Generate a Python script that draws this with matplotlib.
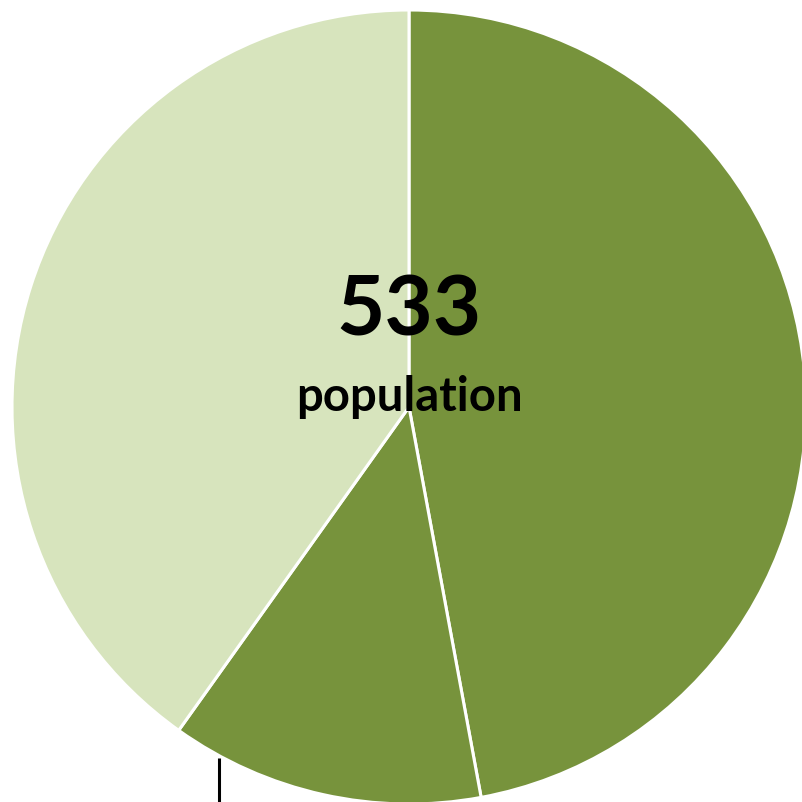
import matplotlib
matplotlib.use("Agg")
import matplotlib.pyplot as plt

# Population split
segments = ["Group A", "Group B", "Group C"]
counts = [251, 68, 214]
colors = ["#77933C", "#77933C", "#D7E4BD"]
total_label = "533"
subtitle = "population"

W = H = 802
fig = plt.figure(figsize=(W / 100, H / 100), dpi=100)
ax = fig.add_axes([0, 0, 1, 1])

cx, cy, r = 409, H - 407, 397
ax.pie(counts, colors=colors, startangle=90, counterclock=False,
       center=(cx, cy), radius=r, frame=True,
       wedgeprops=dict(edgecolor="white", linewidth=2.2))

# leader line of the small slice's label, running off the bottom edge
ax.plot([219, 219], [H - 758, -20], color="black", lw=2.2, solid_capstyle="butt")

ax.text(cx, H - 312, total_label, ha="center", va="center",
        fontsize=60, fontweight="bold", family=["Lato", "DejaVu Sans"], color="black")
ax.text(cx, H - 397, subtitle, ha="center", va="center",
        fontsize=34, fontweight="bold", family=["Lato", "DejaVu Sans"], color="black")

ax.set_xlim(0, W)
ax.set_ylim(0, H)
ax.set_aspect("equal")
ax.axis("off")
fig.savefig("out.png", dpi=100, facecolor="white")
